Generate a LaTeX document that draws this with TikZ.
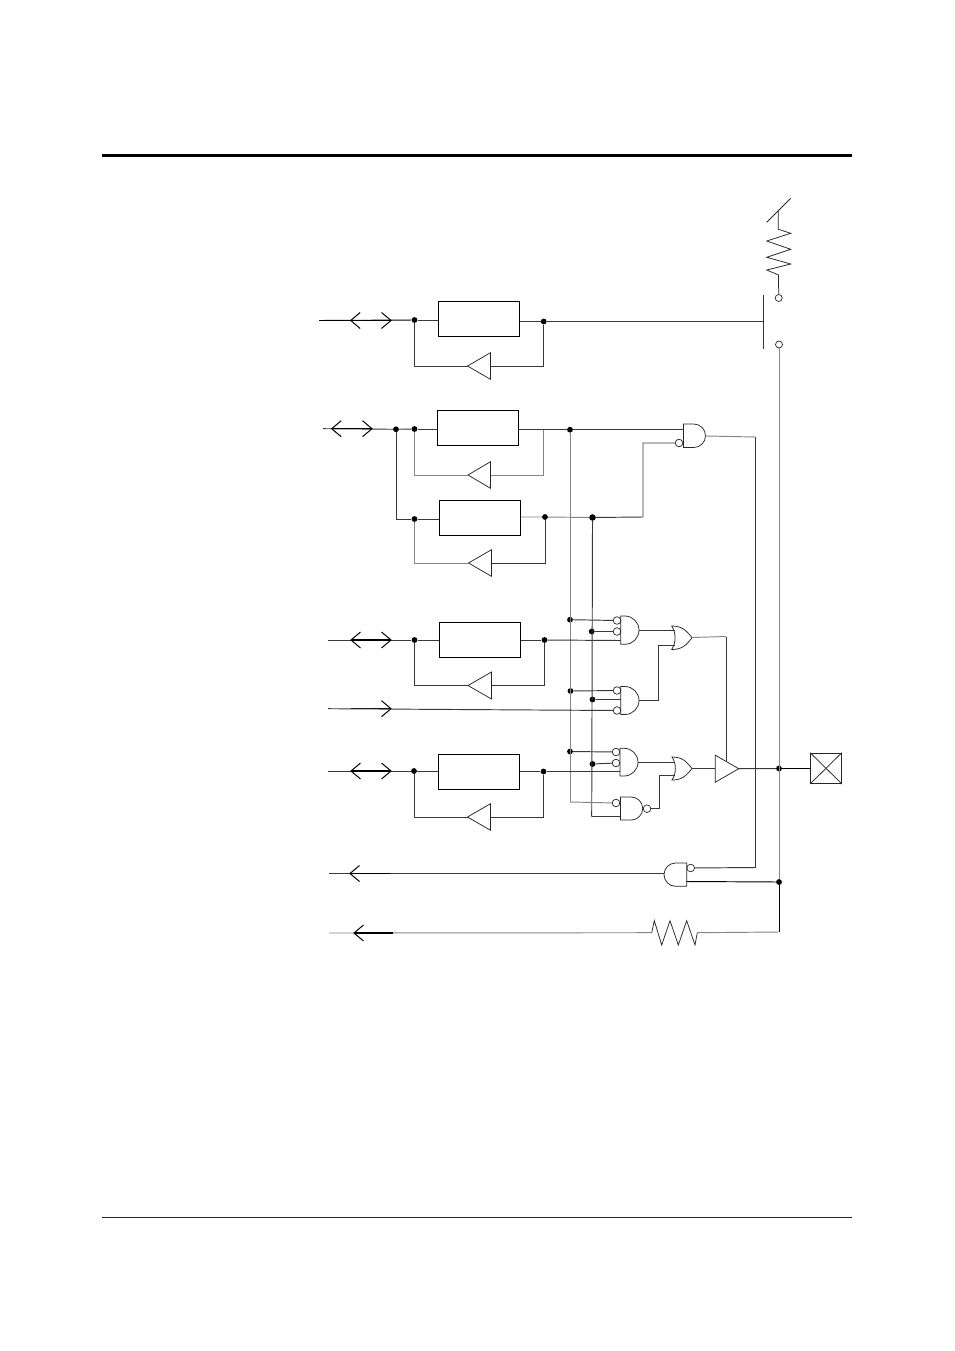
\documentclass[tikz,border=0pt]{standalone}
\tikzset{
  wire/.style={line width=0.95pt,draw=black!78},
  lite/.style={line width=0.95pt,draw=black!48},
  strong/.style={line width=1.1pt,draw=black},
  shapeline/.style={line width=0.75pt,draw=black!85,line join=miter},
  regbox/.style={draw=black,line width=0.95pt,rectangle,inner sep=0pt,minimum width=81pt,minimum height=35pt},
  dot/.style={circle,fill=black,draw=none,inner sep=0pt,minimum size=5.8pt},
  bigdot/.style={dot,minimum size=6.6pt},
  bubble/.style={circle,draw=black!85,line width=0.7pt,fill=white,inner sep=0pt,minimum size=7.6pt},
  hub/.style={circle,draw=black!85,line width=0.7pt,fill=white,inner sep=0pt,minimum size=7pt},
}
% flat side left, round side right
\newcommand{\andright}[4]{% xl, yt, yb, xt
  \pgfmathsetmacro{\gr}{(#3-#2)/2}
  \pgfmathsetmacro{\gm}{#4-\gr}
  \draw[shapeline] (#1,#2) -- (\gm,#2) arc[start angle=90,end angle=-90,radius=\gr pt] -- (#1,#3) -- cycle;
}
\newcommand{\andleft}[4]{% xr, yt, yb, xt
  \pgfmathsetmacro{\gr}{(#3-#2)/2}
  \pgfmathsetmacro{\gm}{#4+\gr}
  \draw[shapeline] (#1,#2) -- (\gm,#2) arc[start angle=90,end angle=270,radius=\gr pt] -- (#1,#3) -- cycle;
}
\newcommand{\orgate}[4]{% xl, yt, yb, xt
  \pgfmathsetmacro{\gh}{#3-#2}
  \pgfmathsetmacro{\gy}{(#3+#2)/2}
  \draw[shapeline] (#1,#2) .. controls (#1+4.5,#2+0.3*\gh) and (#1+4.5,#2+0.7*\gh) .. (#1,#3)
    .. controls (#1+10,#3) and (#4-6,#3-4) .. (#4,\gy)
    .. controls (#4-6,#2+4) and (#1+10,#2) .. cycle;
}
% triangle: name, tip x, base x, y, half height
\newcommand{\tri}[5]{%
  \coordinate (#1tip) at (#2,#4);
  \coordinate (#1base) at (#3,#4);
  \draw[shapeline] (#2,#4) -- (#3,#4-#5) -- (#3,#4+#5) -- cycle;
}
\newcommand{\chevleft}[2]{\draw[line width=1pt,draw=black] (#1+9.5,#2-8) -- (#1,#2) -- (#1+9.5,#2+8);}
\newcommand{\chevright}[2]{\draw[line width=1pt,draw=black] (#1-9.5,#2-8) -- (#1,#2) -- (#1-9.5,#2+8);}
\begin{document}
\begin{tikzpicture}[x=1pt,y=-1pt]
\useasboundingbox (0,0) rectangle (954,1351);
\fill[white] (0,0) rectangle (954,1351);

% page rules
\coordinate (tl) at (102,155.5); \coordinate (tr) at (852,155.5);
\coordinate (bl) at (102,1217.5); \coordinate (br) at (852,1217.5);
\draw[line width=3pt,black] (tl) -- (tr);
\draw[line width=0.8pt,black!85] (bl) -- (br);

% registers
\node[regbox] (r1) at (479,318.8) {};
\node[regbox] (r2) at (478,427.5) {};
\node[regbox] (r3) at (480,517.7) {};
\node[regbox] (r4) at (480,639.7) {};
\node[regbox] (r5) at (479,771.5) {};

% junctions
\node[dot] (j1a) at (414.5,320) {};
\node[dot] (j1b) at (543.7,321.5) {};
\node[dot] (j2o) at (396,429.3) {};
\node[dot] (j2a) at (414.5,429) {};
\node[dot] (j2b) at (570,429.7) {};
\node[dot] (j3a) at (414.5,519) {};
\node[dot] (j3b) at (545,517) {};
\node[bigdot] (j3c) at (592.5,517.5) {};
\node[dot] (j4a) at (414.5,640) {};
\node[dot] (j4b) at (544.5,640) {};
\node[dot] (j5a) at (414,771) {};
\node[dot] (j5b) at (543.5,771.5) {};
\node[dot] (p1) at (570,619.7) {};
\node[dot] (q1) at (591.7,631.5) {};
\node[dot] (p2) at (570.5,691) {};
\node[dot] (q2) at (592.5,699.5) {};
\node[dot] (p3) at (570,751.5) {};
\node[dot] (q3) at (592.5,764) {};
\node[dot] (jout) at (779,768.5) {};
\node[dot] (jlow) at (779,882) {};

% feedback buffers
\tri{f1}{467.5}{490.5}{366}{13.3}
\tri{f2}{468}{490.5}{475}{13.3}
\tri{f3}{468.5}{491.5}{563}{13.3}
\tri{f4}{468}{491.5}{685.5}{13.5}
\tri{f5}{467.5}{490.5}{817}{13.3}

% line 1
\coordinate (s1) at (319,320.5);
\coordinate (a1l) at (350.7,320.5); \coordinate (a1r) at (391,320.5);
\draw[wire,black] (s1) -- (j1a);
\draw[strong] (a1l) -- (a1r);
\chevleft{350.7}{320.5} \chevright{391}{320.5}
\draw[wire] (j1a) -- (j1a -| r1.west);
\draw[wire] (j1b -| r1.east) -- (j1b);
\coordinate (bar) at (763.3,321.5);
\draw[wire] (j1b) -- (bar);
\draw[wire] (j1b) |- (f1base);
\draw[wire] (f1tip) -| (j1a);

% switch and pull-up
\coordinate (bart) at (763.3,294.7); \coordinate (barb) at (763.3,348.5);
\draw[line width=0.9pt,black!80] (bart) -- (barb);
\node[hub] (sw1) at (778.7,298) {};
\node[hub] (sw2) at (779,344.5) {};
\coordinate (zt) at (778.3,210);
\coordinate (zl) at (778.5,275);
\draw[shapeline] (sw1) -- (zl) -- (766.7,270) -- (790.7,264) -- (766.7,257.3) -- (790.7,249.3) -- (766.7,241) -- (790.7,233.3) -- (778.3,229.3) -- (zt);
\coordinate (d1) at (790.7,198.3); \coordinate (d2) at (766.7,222.3);
\draw[shapeline] (d1) -- (d2);

% line 2
\coordinate (s2) at (323,428.7);
\draw[wire] (s2) -- (j2o) -- (j2a);
\coordinate (a2l) at (331.7,428.7); \coordinate (a2r) at (372,428.7);
\draw[strong] (a2l) -- (a2r);
\chevleft{331.7}{428.7} \chevright{372}{428.7}
\draw[wire] (j2a) -- (j2a -| r2.west);
\node[bubble] (b0) at (679,443) {};
\coordinate (g0a) at (683.5,429.7);
\draw[wire] (j2b -| r2.east) -- (j2b) -- (g0a);
\coordinate (fb2) at (543.5,429.5);
\draw[lite] (fb2) |- (f2base);
\draw[lite] (f2tip) -| (j2a);
\draw[wire] (j2o) |- (j3a);

% line 3
\draw[wire] (j3a) -- (j3a -| r3.west);
\draw[lite] (j3b -| r3.east) -- (j3b) -- (j3c);
\coordinate (c1) at (643,517);
\draw[wire] (j3c) -- (c1) |- (b0);
\draw[wire] (j3b) |- (f3base);
\draw[lite] (f3tip) -| (j3a);

% vertical buses
\coordinate (v1end) at (570,802);
\coordinate (v2end) at (591.7,816.5);
\draw[lite] (j2b) -- (v1end);
\draw[wire] (j3c.south) -- (v2end);

% line 4
\coordinate (s4) at (328,640);
\draw[wire] (s4) -- (j4a);
\coordinate (a4l) at (351,640); \coordinate (a4r) at (391,640);
\draw[strong] (a4l) -- (a4r);
\chevleft{351}{640} \chevright{391}{640}
\draw[wire] (j4a) -- (j4a -| r4.west);
\draw[wire] (j4b -| r4.east) -- (j4b);
\draw[wire] (j4b) |- (f4base);
\draw[wire] (f4tip) -| (j4a);

% line 5 (input only)
\coordinate (s5) at (328,708.7);
\coordinate (a5l) at (351,708.7); \coordinate (a5r) at (391,708.7);
\draw[strong] (a5l) -- (a5r);
\chevright{391}{708.7}

% line 6
\coordinate (s6) at (328,771);
\draw[wire] (s6) -- (j5a);
\coordinate (a6l) at (351,771); \coordinate (a6r) at (391,771);
\draw[strong] (a6l) -- (a6r);
\chevleft{351}{771} \chevright{391}{771}
\draw[wire] (j5a) -- (j5a -| r5.west);
\draw[wire] (j5b -| r5.east) -- (j5b);
\draw[wire] (j5b) |- (f5base);
\draw[wire] (f5tip) -| (j5a);

% gate input bubbles
\node[bubble] (b11) at (617,620.5) {};
\node[bubble] (b12) at (617,631.5) {};
\node[bubble] (b21) at (617,690.5) {};
\node[bubble] (b22) at (617,710.5) {};
\node[bubble] (b31) at (616,752) {};
\node[bubble] (b32) at (616,763) {};
\node[bubble] (b41) at (616,803) {};
\node[bubble] (b4o) at (647,808.7) {};
\node[bubble] (b5o) at (690.7,868) {};

% wires into gates
\draw[wire] (p1) -- (b11);
\draw[wire] (q1) -- (b12);
\coordinate (g1c) at (620.7,640.5);
\draw[wire] (j4b) -- (g1c);
\draw[wire] (p2) -- (b21);
\coordinate (g2b) at (620.7,699.5);
\draw[wire] (q2) -- (g2b);
\draw[wire] (s5) -- (b22);
\draw[wire] (p3) -- (b31);
\draw[wire] (q3) -- (b32);
\coordinate (g3c) at (620,771.5);
\draw[wire] (j5b) -- (g3c);
\draw[lite] (v1end) -- (b41);
\coordinate (g4b) at (620.5,816.5);
\draw[wire] (v2end) -- (g4b);

% first-level gates
\andright{683.5}{424}{447.5}{705.5}
\andright{620.7}{616}{644.3}{639}
\andright{620.7}{686.5}{714.5}{639}
\andright{620}{748.3}{776}{638}
\andright{620.5}{797}{820}{642.7}
\orgate{671.7}{626}{649.5}{692}
\orgate{672}{757}{780}{692}

% gate outputs
\coordinate (g1o) at (639,630.5); \coordinate (o1a) at (674.5,630.5);
\draw[wire] (g1o) -- (o1a);
\coordinate (g2o) at (639,700); \coordinate (m1) at (658.7,700); \coordinate (o1b) at (674.5,645);
\draw[wire] (g2o) -- (m1) |- (o1b);
\coordinate (g3o) at (638,762); \coordinate (o2a) at (674.5,762);
\draw[wire] (g3o) -- (o2a);
\coordinate (m2) at (659.5,808.7); \coordinate (o2b) at (674.5,775.7);
\draw[wire] (b4o) -- (m2) |- (o2b);

% output buffer
\tri{t}{738.7}{715.3}{768.7}{13.5}
\coordinate (or1o) at (692,637.5); \coordinate (en1) at (726,636.5); \coordinate (en2) at (726,761);
\draw[lite] (or1o) -- (en1);
\draw[wire] (en1) -- (en2);
\coordinate (or2o) at (692,768.7);
\draw[wire] (or2o) -- (tbase);
\draw[wire] (ttip) -- (jout);

% pad
\node[draw=black!85,line width=0.95pt,rectangle,inner sep=0pt,minimum width=31pt,minimum height=30.5pt] (pad) at (826,768.3) {};
\draw[shapeline] (pad.north west) -- (pad.south east);
\draw[shapeline] (pad.north east) -- (pad.south west);
\draw[wire,black] (jout) -- (jout -| pad.west);

% long verticals
\coordinate (g0o) at (705.5,436); \coordinate (k1) at (755.5,437); \coordinate (k2) at (755.5,867.5);
\draw[lite] (g0o) -- (k1);
\draw[wire] (k1) -- (k2) -- (b5o);
\draw[lite] (sw2) -- (jlow);

% lower AND and outputs
\andleft{686.7}{863}{886.3}{664}
\coordinate (g5b) at (686.7,881.5);
\draw[wire,black] (g5b) -- (jlow);
\coordinate (g5o) at (664,873.5); \coordinate (s7) at (329,873.5);
\draw[wire] (g5o) -- (s7);
\coordinate (a7l) at (350,873.5); \coordinate (a7r) at (390,873.5);
\draw[strong] (a7l) -- (a7r);
\chevleft{350}{873.5}

% resistor line
\coordinate (s8) at (329,933); \coordinate (rl) at (651.7,932.7);
\draw[lite] (s8) -- (rl);
\coordinate (a8l) at (354,933); \coordinate (a8r) at (393,933);
\draw[strong] (a8l) -- (a8r);
\chevleft{354}{933}
\coordinate (rr) at (697.3,932.7); \coordinate (corner) at (779,932);
\draw[shapeline] (rl) -- (654.3,920.7) -- (661.7,945) -- (670,920.7) -- (678.3,945) -- (686.7,920.7) -- (695,945) -- (rr);
\draw[lite] (rr) -- (corner);
\draw[wire,black] (corner) -- (jlow);
\end{tikzpicture}
\end{document}
